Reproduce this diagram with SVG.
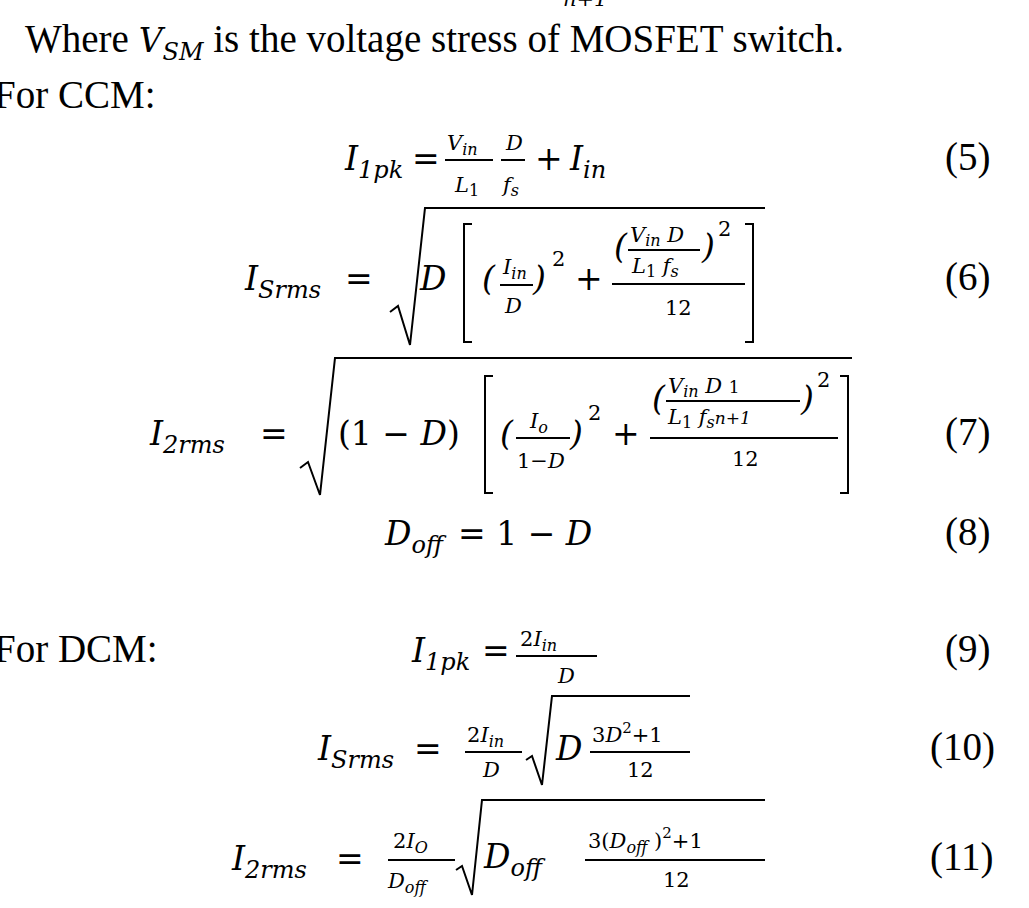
<svg xmlns="http://www.w3.org/2000/svg" width="1029" height="908" viewBox="0 0 1029 908">
<style>
text{font-family:"Liberation Serif","DejaVu Serif",serif;fill:#000}
.t{font-size:39px}
.m{font-family:"DejaVu Serif",serif;font-style:italic;font-size:33px}
.s{font-family:"DejaVu Serif",serif;font-style:italic;font-size:24px}
.f{font-family:"DejaVu Serif",serif;font-style:italic;font-size:21px}
.u{font-family:"DejaVu Serif",serif;font-size:21px;font-style:normal}
.r{font-family:"DejaVu Serif",serif;font-size:33px;font-style:normal}
path,line{stroke:#000;fill:none;stroke-width:2}
</style>
<rect width="1029" height="908" fill="#fff"/>
<g id="top"><text class="f" x="563" y="6">n+1</text>
<text class="t" x="25" y="52">Where <tspan class="m" font-size="36">V</tspan><tspan class="s" dy="8">SM</tspan><tspan dy="-8"> is the voltage stress of MOSFET switch.</tspan></text>
<text class="t" x="-6" y="108">For CCM:</text></g>
<g id="eq5">
<text class="m" x="345" y="170">I<tspan class="s" dy="8">1pk</tspan></text><text class="r" x="412" y="170">=</text>
<text class="f" x="447" y="150">V<tspan font-size="16" dy="5">in</tspan></text><line x1="445" y1="160" x2="493" y2="160"/><text class="f" x="455" y="192">L<tspan font-size="16" dy="4" font-style="normal">1</tspan></text>
<text class="f" x="506" y="150">D</text><line x1="501" y1="160" x2="525" y2="160"/><text class="f" x="503" y="192">f<tspan font-size="16" dy="4">s</tspan></text>
<text class="r" x="535" y="170">+</text><text class="m" x="570" y="170">I<tspan class="s" dy="8">in</tspan></text>
<text class="t" x="945" y="170">(5)</text></g>
<g id="eq6">
<text class="m" x="245" y="290">I<tspan class="s" dy="8">Srms</tspan></text><text class="r" x="345" y="290">=</text>
<path d="M390 312 L398 306 L410 345 L425 208 L765 208"/>
<text class="m" x="420" y="290">D</text>
<path d="M472 224 L464 224 L464 342 L472 342 M745 224 L753 224 L753 342 L745 342" stroke-width="3"/>
<text class="m" x="482" y="290">(</text><text class="f" x="503" y="274">I<tspan font-size="16" dy="5">in</tspan></text><line x1="500" y1="285" x2="533" y2="285"/><text class="f" x="505" y="313">D</text><text class="m" x="533" y="290">)</text><text class="u" x="552" y="266">2</text>
<text class="r" x="575" y="290">+</text>
<line x1="612" y1="284" x2="745" y2="284"/>
<text class="m" x="614" y="258" font-size="28">(</text><text class="f" x="630" y="242">V<tspan font-size="16" dy="4">in</tspan><tspan dy="-4"> D</tspan></text><line x1="628" y1="250" x2="700" y2="250"/><text class="f" x="632" y="273">L<tspan font-size="16" dy="4" font-style="normal">1</tspan><tspan dy="-4"> f</tspan><tspan font-size="16" dy="4">s</tspan></text><text class="m" x="702" y="258" font-size="28">)</text><text class="u" x="718" y="236">2</text>
<text class="u" x="665" y="315">12</text>
<text class="t" x="945" y="290">(6)</text></g>
<g id="eq7">
<text class="m" x="150" y="445">I<tspan class="s" dy="8">2rms</tspan></text><text class="r" x="260" y="445">=</text>
<path d="M300 468 L308 462 L320 495 L335 358 L852 358"/>
<text class="r" x="338" y="445">(1 − <tspan font-style="italic">D</tspan>)</text>
<path d="M493 376 L485 376 L485 493 L493 493 M840 376 L848 376 L848 493 L840 493" stroke-width="3"/>
<text class="m" x="500" y="445">(</text><text class="f" x="530" y="428">I<tspan font-size="16" dy="5">o</tspan></text><line x1="516" y1="438" x2="570" y2="438"/><text class="f" x="517" y="468"><tspan font-style="normal">1−</tspan>D</text><text class="m" x="570" y="445">)</text><text class="u" x="588" y="420">2</text>
<text class="r" x="612" y="445">+</text>
<line x1="650" y1="438" x2="838" y2="438"/>
<text class="m" x="652" y="410" font-size="28">(</text><text class="f" x="668" y="393">V<tspan font-size="16" dy="4">in</tspan><tspan dy="-4"> D  </tspan><tspan font-style="normal" font-size="17">1</tspan></text><line x1="666" y1="401" x2="800" y2="401"/><text class="f" x="668" y="424">L<tspan font-size="16" dy="4" font-style="normal">1</tspan><tspan dy="-4"> f</tspan><tspan font-size="16" dy="4">s</tspan><tspan dy="-4" font-size="17">n+1</tspan></text><text class="m" x="801" y="410" font-size="28">)</text><text class="u" x="817" y="387">2</text>
<text class="u" x="732" y="466">12</text>
<text class="t" x="945" y="445">(7)</text></g>
<g id="eq8">
<text class="m" x="385" y="545">D<tspan class="s" dy="8">off</tspan></text><text class="r" x="458" y="545">= 1 − <tspan font-style="italic">D</tspan></text>
<text class="t" x="945" y="545">(8)</text></g>
<g id="eq9">
<text class="t" x="-6" y="662">For DCM:</text>
<text class="m" x="412" y="662">I<tspan class="s" dy="8">1pk</tspan></text><text class="r" x="482" y="662">=</text>
<text class="f" x="520" y="646"><tspan font-style="normal">2</tspan>I<tspan font-size="16" dy="5">in</tspan></text><line x1="516" y1="656" x2="597" y2="656"/><text class="f" x="558" y="683">D</text>
<text class="t" x="945" y="662">(9)</text></g>
<g id="eq10">
<text class="m" x="318" y="760">I<tspan class="s" dy="8">Srms</tspan></text><text class="r" x="414" y="760">=</text>
<text class="f" x="467" y="742"><tspan font-style="normal">2</tspan>I<tspan font-size="16" dy="5">in</tspan></text><line x1="465" y1="752" x2="522" y2="752"/><text class="f" x="483" y="777">D</text>
<path d="M526 760 L532 756 L542 785 L552 696 L690 696"/>
<text class="m" x="556" y="760">D</text>
<text class="f" x="592" y="742"><tspan font-style="normal">3</tspan>D<tspan font-style="normal" font-size="15" dy="-9">2</tspan><tspan font-style="normal" dy="9">+1</tspan></text><line x1="590" y1="752" x2="690" y2="752"/><text class="u" x="627" y="777">12</text>
<text class="t" x="930" y="760">(10)</text></g>
<g id="eq11">
<text class="m" x="232" y="870">I<tspan class="s" dy="8">2rms</tspan></text><text class="r" x="336" y="870">=</text>
<text class="f" x="393" y="848"><tspan font-style="normal">2</tspan>I<tspan font-size="16" dy="5">O</tspan></text><line x1="388" y1="860" x2="455" y2="860"/><text class="f" x="388" y="888">D<tspan font-size="16" dy="5">off</tspan></text>
<path d="M456 870 L462 866 L472 895 L482 800 L765 800"/>
<text class="m" x="484" y="868">D<tspan class="s" dy="8">off</tspan></text>
<text class="f" x="588" y="848"><tspan font-style="normal">3(</tspan>D<tspan font-size="16" dy="5">off</tspan><tspan font-style="normal" dy="-5"> )</tspan><tspan font-style="normal" font-size="15" dy="-10">2</tspan><tspan font-style="normal" dy="10">+1</tspan></text><line x1="585" y1="860" x2="765" y2="860"/><text class="u" x="663" y="887">12</text>
<text class="t" x="930" y="870">(11)</text></g>
</svg>
